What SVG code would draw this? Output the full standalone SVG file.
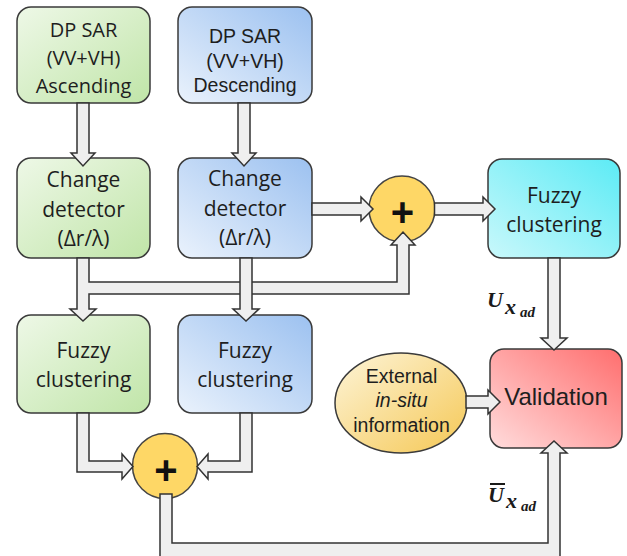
<svg xmlns="http://www.w3.org/2000/svg" width="627" height="556" viewBox="0 0 627 556">
<defs>
<linearGradient id="gGreen" x1="0" y1="0" x2="1" y2="1"><stop offset="0" stop-color="#eef8e7"/><stop offset="1" stop-color="#c0e5a8"/></linearGradient>
<linearGradient id="gBlue" x1="0" y1="1" x2="1" y2="0"><stop offset="0" stop-color="#eaf2fc"/><stop offset="1" stop-color="#9cc1f0"/></linearGradient>
<linearGradient id="gCyan" x1="0" y1="1" x2="1" y2="0"><stop offset="0" stop-color="#c9f8fb"/><stop offset="1" stop-color="#5cebf5"/></linearGradient>
<linearGradient id="gRed" x1="0" y1="1" x2="1" y2="0"><stop offset="0" stop-color="#ffdcdc"/><stop offset="1" stop-color="#ff6e6e"/></linearGradient>
<linearGradient id="gYel" x1="0" y1="0" x2="1" y2="1"><stop offset="0" stop-color="#fdf4d8"/><stop offset="1" stop-color="#f5c855"/></linearGradient>
</defs>
<style>
.box{stroke:#3a3a3a;stroke-width:1.5}
.arr{fill:#efefef;stroke:#333;stroke-width:1.5;stroke-linejoin:miter}
.sum{fill:#fed766;stroke:#444;stroke-width:1.5}
.cal{font-family:"Open Sans",sans-serif;font-size:21px;fill:#1e1e1e;text-anchor:middle}
.ari{font-family:"Liberation Sans",Arial,sans-serif;fill:#1e1e1e;text-anchor:middle}
.plus{font-family:"Liberation Sans",Arial,sans-serif;font-weight:bold;font-size:40px;fill:#111;text-anchor:middle}
.math{font-family:"Liberation Serif","Times New Roman",serif;font-weight:bold;font-style:italic;fill:#1a1a1a}
</style>

<g id="n1">
<rect class="box" x="17" y="7" width="133" height="96" rx="14" fill="url(#gGreen)"/>
<text class="cal" x="83.5" style="font-size:20px"><tspan x="83.5" y="36.7">DP SAR</tspan><tspan x="83.5" y="64.5">(VV+VH)</tspan><tspan x="83.5" y="92.5">Ascending</tspan></text>
</g>
<g id="n2">
<rect class="box" x="178" y="7" width="134" height="96" rx="14" fill="url(#gBlue)"/>
<text class="ari" style="font-size:19.5px"><tspan x="245" y="43">DP SAR</tspan><tspan x="245" y="67.5">(VV+VH)</tspan><tspan x="245" y="92">Descending</tspan></text>
</g>
<g id="n3">
<rect class="box" x="17" y="158" width="133" height="100" rx="14" fill="url(#gGreen)"/>
<text class="cal"><tspan x="83.5" y="187">Change</tspan><tspan x="83.5" y="216.5">detector</tspan><tspan x="83.5" y="245.5">(Δr/λ)</tspan></text>
</g>
<g id="n4">
<rect class="box" x="178" y="158" width="134" height="100" rx="14" fill="url(#gBlue)"/>
<text class="cal"><tspan x="245" y="186">Change</tspan><tspan x="245" y="215.5">detector</tspan><tspan x="245" y="244.5">(Δr/λ)</tspan></text>
</g>
<g id="n5">
<rect class="box" x="17" y="315" width="133" height="98" rx="14" fill="url(#gGreen)"/>
<text class="cal"><tspan x="83.5" y="358">Fuzzy</tspan><tspan x="83.5" y="387">clustering</tspan></text>
</g>
<g id="n6">
<rect class="box" x="178" y="315" width="134" height="98" rx="14" fill="url(#gBlue)"/>
<text class="cal"><tspan x="245" y="357.5">Fuzzy</tspan><tspan x="245" y="387">clustering</tspan></text>
</g>
<g id="n7">
<rect class="box" x="488" y="159" width="132" height="99" rx="14" fill="url(#gCyan)"/>
<text class="cal"><tspan x="554" y="203">Fuzzy</tspan><tspan x="554" y="232">clustering</tspan></text>
</g>
<g id="n8">
<rect class="box" x="490" y="349" width="132" height="99" rx="14" fill="url(#gRed)"/>
<text class="ari" x="556" y="405" style="font-size:24px">Validation</text>
</g>
<g id="n9">
<ellipse class="box" cx="401" cy="403" rx="66" ry="50" fill="url(#gYel)"/>
<text class="ari" style="font-size:19.5px"><tspan x="401.5" y="383.3">External</tspan><tspan x="401.5" y="407" font-style="italic">in-situ</tspan><tspan x="401.5" y="431.7">information</tspan></text>
</g>
<g id="c1">
<circle class="sum" cx="402" cy="209" r="33"/>
<text class="plus" x="402.5" y="226">+</text>
</g>
<g id="c2">
<circle class="sum" cx="165" cy="466" r="32.5"/>
<text class="plus" x="166" y="484">+</text>
</g>

<g id="connectors">
<polygon class="arr" points="77,103 77,153 71,153 83,166 95,153 89,153 89,103"/>
<polygon class="arr" points="238,103 238,153 232,153 244,166 256,153 250,153 250,103"/>
<polygon class="arr" points="77,258 77,309 70,309 83,321 96,309 89,309 89,294 409,294 409,245 415,245 403,232 391,245 397,245 397,282 89,282 89,258"/>
<polygon class="arr" points="240,258 240,309 233,309 246,321 259,309 252,309 252,258"/>
<polygon class="arr" points="312,203 361,203 361,197 373,209 361,221 361,215 312,215"/>
<polygon class="arr" points="434.5,203 483,203 483,197 495,209 483,221 483,215 434.5,215"/>
<polygon class="arr" points="548,258 548,338 541,338 554,350 567,338 560,338 560,258"/>
<polygon class="arr" points="466,396 488,396 488,390 500,402 488,414 488,408 466,408"/>
<polygon class="arr" points="77,413 77,472 122,472 122,479 133,466.5 122,454 122,461 89,461 89,413"/>
<polygon class="arr" points="252,413 252,472 208,472 208,479 197,466.5 208,454 208,461 240,461 240,413"/>
<polygon class="arr" points="160,494 160,562 560,562 560,453 567,453 554,441 541,453 548,453 548,543 172,543 172,494"/>
</g>

<g id="labels">
<text class="math"><tspan x="487" y="307" font-size="22">U</tspan><tspan x="505" y="314" font-size="22">x</tspan><tspan x="520" y="317" font-size="15">ad</tspan></text>
<line x1="490" y1="484" x2="505" y2="484" stroke="#1a1a1a" stroke-width="2"/>
<text class="math"><tspan x="488" y="502" font-size="22">U</tspan><tspan x="506" y="508" font-size="22">x</tspan><tspan x="521" y="511" font-size="15">ad</tspan></text>
</g>
</svg>
